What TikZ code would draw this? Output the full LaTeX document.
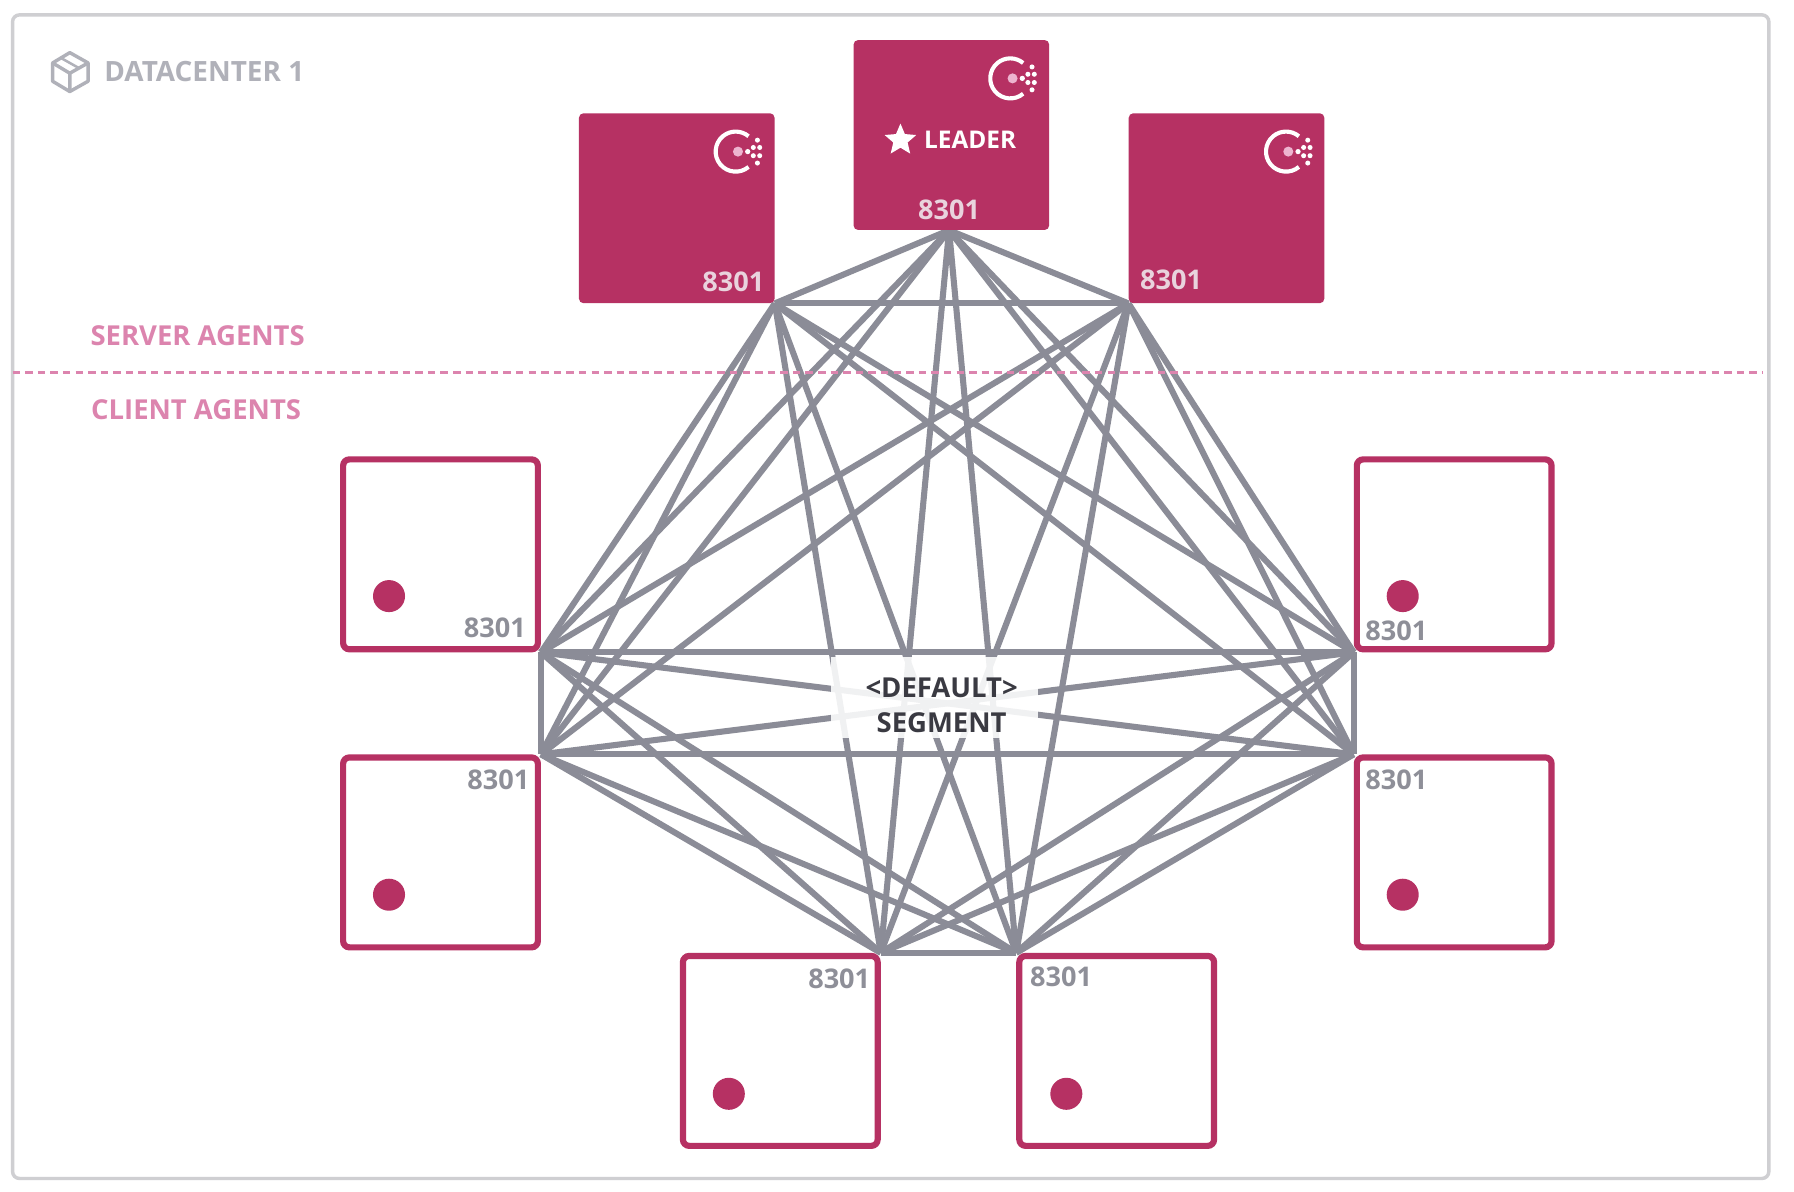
\documentclass[tikz,border=0pt]{standalone}
\usepackage{fontspec}
\setmainfont{Open Sans}
\usetikzlibrary{shapes.geometric,backgrounds}
\definecolor{crim}{HTML}{B63163}
\definecolor{meshgray}{HTML}{8B8C97}
\definecolor{portgray}{HTML}{8E8F98}
\definecolor{framegray}{HTML}{CFCFD2}
\definecolor{headgray}{HTML}{B0B1B9}
\definecolor{agentpink}{HTML}{DC84AE}
\definecolor{porttint}{HTML}{E9D3DD}
\definecolor{logopink}{HTML}{EDB4CF}
\definecolor{darktext}{HTML}{3A3A42}
\newcommand{\consullogo}[2]{%
  \begin{scope}[shift={(#1,#2)}]
    \draw[white,line width=3.6pt] (50:17.5) arc[start angle=50,end angle=310,radius=17.5];
    \fill[logopink] (2,0) circle[radius=4.4];
    \fill[white] (10.5,0) circle[radius=2.3];
    \foreach \dx/\dy in {15.4/-3.6,21/-3.6,15.4/3.6,21/3.6,19/-10,19/10}
      \fill[white] (\dx,\dy) circle[radius=2.2];
  \end{scope}}
\tikzset{
  x=1pt,y=-1pt,
  serverbox/.style={fill=crim,rounded corners=4pt,inner sep=0pt,minimum width=171pt,minimum height=166pt},
  clientbox/.style={draw=crim,fill=white,line width=5.4pt,rounded corners=5.5pt,inner sep=0pt,minimum width=170.2pt,minimum height=166pt},
  reddot/.style={circle,fill=crim,inner sep=0pt,minimum size=28pt},
  porttext/.style={font=\fontsize{23.7}{28}\selectfont\bfseries,text=portgray,inner sep=0pt},
  serverport/.style={font=\fontsize{23.7}{28}\selectfont\bfseries,text=porttint,inner sep=0pt},
  agenttext/.style={font=\fontsize{24}{28}\selectfont\bfseries,text=agentpink,inner sep=0pt,anchor=west},
  mesh/.style={draw=meshgray,line width=5.3pt},
}
\begin{document}
\begin{tikzpicture}
\useasboundingbox (0,0) rectangle (1568,1041.8);
\draw[agentpink,line width=2pt,dash pattern=on 6.5pt off 4.5pt] (11,325.5) -- (1541,325.5);

% cube icon
\begin{scope}[headgray,line width=3pt,line join=round]
  \draw (61,46) -- (77,55) -- (77,71) -- (61,80) -- (46,71) -- (46,55) -- cycle;
  \draw (46,55) -- (61,64) -- (77,55) (61,64) -- (61,80);
  \draw[line width=2.2pt] (53,50.5) -- (69,59.5);
\end{scope}
\node[font=\fontsize{24.4}{28}\selectfont\bfseries,text=headgray,inner sep=0pt,anchor=west] (dc) at (91,62.5) {DATACENTER 1};
\node[agenttext] (sa) at (79,293.5) {SERVER AGENTS};
\node[agenttext] (ca) at (79.5,358.5) {CLIENT AGENTS};

% servers
\node[serverbox] (s1) at (831.5,118) {};
\node[serverbox] (s2) at (591.5,182) {};
\node[serverbox] (s3) at (1072,182) {};
\coordinate (s1port) at ([xshift=-2pt]s1.south);
% clients
\node[clientbox] (c1) at (385,484.5) {};
\node[clientbox] (c2) at (385,745) {};
\node[clientbox] (c3) at (1271,484.5) {};
\node[clientbox] (c4) at (1271,745) {};
\node[clientbox] (c5) at (682,918.5) {};
\node[clientbox] (c6) at (976,918.5) {};

\begin{scope}[on background layer]
\fill[white] (0,0) rectangle (1568,1041.8);
\draw[framegray,line width=3pt,rounded corners=6pt] (11,13) rectangle (1546,1030);
\draw[mesh] (s1port) -- (s2.south east);
\draw[mesh] (s1port) -- (s3.south west);
\draw[mesh] (s1port) -- (c1.south east);
\draw[mesh] (s1port) -- (c2.north east);
\draw[mesh] (s1port) -- (c3.south west);
\draw[mesh] (s1port) -- (c4.north west);
\draw[mesh] (s1port) -- (c5.north east);
\draw[mesh] (s1port) -- (c6.north west);
\draw[mesh] (s2.south east) -- (s3.south west);
\draw[mesh] (s2.south east) -- (c1.south east);
\draw[mesh] (s2.south east) -- (c2.north east);
\draw[mesh] (s2.south east) -- (c3.south west);
\draw[mesh] (s2.south east) -- (c4.north west);
\draw[mesh] (s2.south east) -- (c5.north east);
\draw[mesh] (s2.south east) -- (c6.north west);
\draw[mesh] (s3.south west) -- (c1.south east);
\draw[mesh] (s3.south west) -- (c2.north east);
\draw[mesh] (s3.south west) -- (c3.south west);
\draw[mesh] (s3.south west) -- (c4.north west);
\draw[mesh] (s3.south west) -- (c5.north east);
\draw[mesh] (s3.south west) -- (c6.north west);
\draw[mesh] (c1.south east) -- (c2.north east);
\draw[mesh] (c1.south east) -- (c3.south west);
\draw[mesh] (c1.south east) -- (c4.north west);
\draw[mesh] (c1.south east) -- (c5.north east);
\draw[mesh] (c1.south east) -- (c6.north west);
\draw[mesh] (c2.north east) -- (c3.south west);
\draw[mesh] (c2.north east) -- (c4.north west);
\draw[mesh] (c2.north east) -- (c5.north east);
\draw[mesh] (c2.north east) -- (c6.north west);
\draw[mesh] (c3.south west) -- (c4.north west);
\draw[mesh] (c3.south west) -- (c5.north east);
\draw[mesh] (c3.south west) -- (c6.north west);
\draw[mesh] (c4.north west) -- (c5.north east);
\draw[mesh] (c4.north west) -- (c6.north west);
\draw[mesh] (c5.north east) -- (c6.north west);
\end{scope}

% segment label
\fill[white,opacity=.88] (726,574) rectangle (907,645);
\node[font=\fontsize{24}{30}\selectfont\bfseries,text=darktext,inner sep=0pt,align=center] (seg) at (823,616.5) {<DEFAULT>\\SEGMENT};

% server contents
\consullogo{883}{68.5}
\consullogo{643}{132.5}
\consullogo{1124}{132.5}
\node[star,star points=5,star point ratio=2.2,fill=white,inner sep=0pt,minimum size=29pt] (st) at (787,122.5) {};
\node[font=\fontsize{21.3}{24}\selectfont\bfseries,text=white,inner sep=0pt,anchor=west] (ld) at (807.5,122.5) {LEADER};
\node[serverport] (p1) at (829.5,183.5) {8301};
\node[serverport] (p2) at (641,246.5) {8301};
\node[serverport] (p3) at (1023.5,244.5) {8301};
% client contents
\node[reddot] (d1) at (340,521) {};
\node[reddot] (d2) at (340,782) {};
\node[reddot] (d3) at (1226,521) {};
\node[reddot] (d4) at (1226,782) {};
\node[reddot] (d5) at (637,956) {};
\node[reddot] (d6) at (932,956) {};
\node[porttext] (q1) at (432.5,548.5) {8301};
\node[porttext] (q2) at (435.5,681.5) {8301};
\node[porttext] (q3) at (1220.5,551.5) {8301};
\node[porttext] (q4) at (1220.5,681.5) {8301};
\node[porttext] (q5) at (733.5,855.5) {8301};
\node[porttext] (q6) at (927.5,853.5) {8301};
\end{tikzpicture}
\end{document}
